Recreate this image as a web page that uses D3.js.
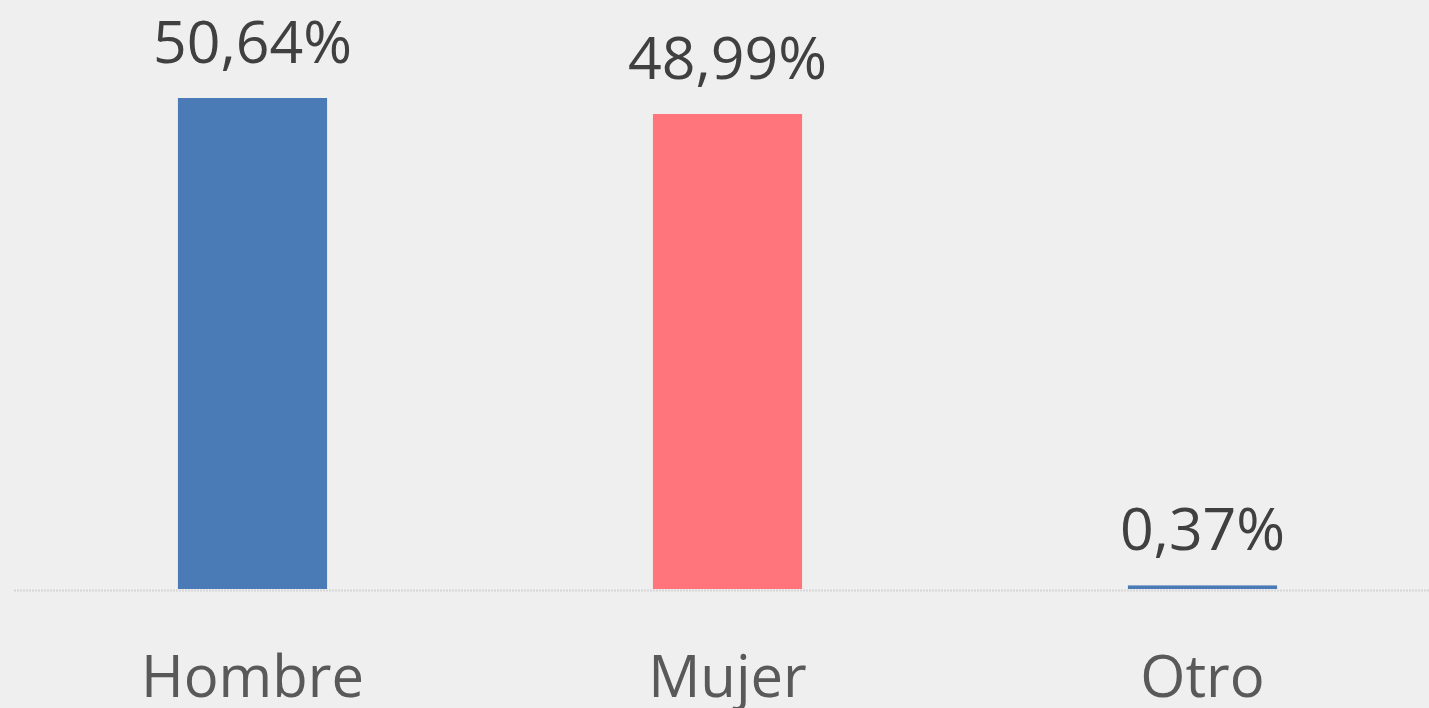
<!DOCTYPE html>
<html>
<head>
<meta charset="utf-8">
<script src="https://cdn.jsdelivr.net/npm/d3@7"></script>
<style>
  body { margin: 0; background: #efefef; }
  svg { display: block; font-family: "Open Sans", sans-serif; }
</style>
</head>
<body>
<div id="chart"></div>
<script>
// data
var categories = ["Hombre", "Mujer", "Otro"];
var values = [50.64, 48.99, 0.37];
var valueLabels = ["50,64%", "48,99%", "0,37%"];
var colors = ["#4a7bb7", "#ff757b", "#4a7bb7"];

var width = 1429, height = 708;
var baseY = 589;

var svg = d3.select("#chart")
  .append("svg")
    .attr("width", width)
    .attr("height", height);

svg.append("rect")
  .attr("width", width).attr("height", height)
  .attr("fill", "#efefef");

// x scale
var x = d3.scaleBand()
  .domain(categories)
  .range([15, 1440])
  .paddingInner(0.686)
  .paddingOuter(0.343);

// y scale
var y = d3.scaleLinear()
  .domain([0, 50.64])
  .range([baseY, 98]);

// baseline
svg.append("line")
  .attr("x1", 14).attr("x2", width)
  .attr("y1", baseY + 1.5).attr("y2", baseY + 1.5)
  .attr("stroke", "#d6d6d6")
  .attr("stroke-width", 2)
  .attr("stroke-dasharray", "2,1");

// bars
svg.selectAll(".bar")
  .data(values)
  .enter().append("rect")
    .attr("class", "bar")
    .attr("x", (d, i) => x(categories[i]))
    .attr("width", x.bandwidth())
    .attr("y", d => y(d))
    .attr("height", d => baseY - y(d))
    .attr("fill", (d, i) => colors[i]);

// value labels
svg.selectAll(".val")
  .data(values)
  .enter().append("text")
    .attr("class", "val")
    .attr("x", (d, i) => x(categories[i]) + x.bandwidth() / 2)
    .attr("y", d => y(d) - 35)
    .attr("text-anchor", "middle")
    .style("font-size", "59px")
    .style("fill", "#404040")
    .text((d, i) => valueLabels[i]);

// category labels
svg.selectAll(".cat")
  .data(categories)
  .enter().append("text")
    .attr("class", "cat")
    .attr("x", d => x(d) + x.bandwidth() / 2)
    .attr("y", 697)
    .attr("text-anchor", "middle")
    .style("font-size", "58px")
    .style("fill", "#595959")
    .text(d => d);
</script>
</body>
</html>
